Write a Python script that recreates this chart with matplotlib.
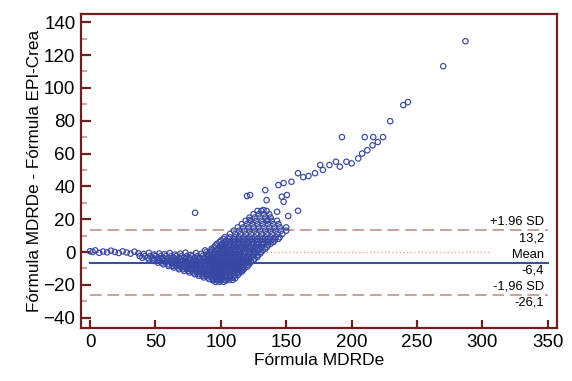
import matplotlib
matplotlib.use("Agg")
import matplotlib.pyplot as plt
from matplotlib.ticker import MultipleLocator

# --- data ---
# points near zero on the left
zero_x = [0, 2, 4, 7, 10, 13, 16, 19, 22, 25, 28, 31, 34, 37, 41, 45, 49, 53, 57, 61, 65, 69, 73, 77, 81, 85]
zero_y = [0.5, 0, 1, -0.5, 0.3, -0.2, 0.8, 0, -0.6, 0.4, -0.3, -1, 0.2, -0.8, -1.2, -0.5, -1.5, -0.9,
          -1.3, -0.7, -1.6, -1.0, -0.4, -1.8, -0.6, -1.1]

# dense wedge (x 35-100), one list of x per row
wedge_rows_y = [-2.5, -3.5, -4.5, -5.5, -6.5, -7.5, -8.5, -9.5, -10.5, -11.5, -12.5, -13.5,
                -14.5, -15.5, -16.5, -17.3, -18.2]
wedge_rows_x = [
    [38, 42, 46, 50, 54, 58, 62, 66, 70, 74, 78, 82, 86, 90],
    [40, 44, 48, 52, 56, 60, 64, 68, 72, 76, 80, 84, 88, 92],
    [45, 48, 52, 55, 59, 62, 66, 69, 73, 76, 80, 83, 87, 90, 94],
    [49, 53, 57, 60, 64, 67, 71, 74, 78, 81, 85, 89, 92],
    [52, 55, 58, 62, 65, 68, 72, 75, 78, 82, 85, 88, 92, 95],
    [56, 60, 64, 67, 70, 74, 77, 80, 84, 87, 90, 93],
    [60, 63, 66, 69, 72, 76, 79, 82, 85, 88, 92, 95],
    [64, 67, 70, 73, 75, 78, 81, 84, 87, 90, 93, 96],
    [68, 71, 74, 77, 80, 83, 86, 89, 92, 95],
    [72, 75, 78, 81, 84, 87, 90, 93, 96],
    [76, 79, 82, 85, 88, 91, 94, 97],
    [80, 83, 86, 89, 92, 95, 98],
    [83, 86, 89, 92, 95, 98],
    [87, 90, 93, 96, 99],
    [91, 94, 97, 100],
    [94, 97, 100, 104],
    [96, 99, 102],
]

# rising band (x 90-155)
band_rows_y = [-17, -16, -15, -14, -13, -12, -11, -10, -9, -8, -7, -6, -5, -4, -3, -2, -1, 0,
               1, 2, 3, 4, 5, 6, 7, 8, 9, 11, 13, 15, 17, 19, 21, 23, 25]
band_rows_x = [
    [100, 103, 106, 109],
    [99, 102, 105, 108, 111],
    [98, 101, 104, 107, 110],
    [98, 101, 104, 107, 110, 113],
    [97, 100, 103, 106, 109, 112, 114],
    [96, 99, 102, 105, 108, 111, 114, 116],
    [97, 100, 103, 106, 109, 112, 115, 117],
    [95, 98, 101, 104, 107, 110, 113, 116, 118],
    [96, 99, 102, 105, 108, 111, 114, 117, 120],
    [94, 97, 100, 103, 106, 109, 112, 115, 118, 121],
    [95, 98, 101, 104, 107, 110, 113, 116, 119, 122],
    [93, 96, 99, 102, 105, 108, 111, 114, 117, 120, 123],
    [94, 97, 100, 103, 106, 109, 112, 115, 118, 121, 125],
    [92, 95, 98, 101, 104, 107, 110, 113, 116, 119, 122, 126],
    [93, 96, 99, 102, 105, 108, 111, 114, 117, 120, 124, 128],
    [91, 95, 98, 101, 104, 107, 110, 113, 116, 120, 124, 128],
    [90, 94, 97, 100, 103, 106, 109, 112, 115, 118, 122, 126, 130],
    [89, 92, 95, 99, 102, 105, 108, 111, 114, 118, 122, 126, 131],
    [88, 93, 97, 100, 103, 106, 110, 113, 116, 120, 124, 128, 132],
    [93, 98, 101, 104, 108, 111, 114, 118, 122, 126, 130, 134],
    [95, 99, 102, 106, 109, 112, 116, 119, 123, 127, 131, 135],
    [96, 100, 103, 106, 110, 113, 117, 120, 124, 128, 132, 136],
    [97, 101, 104, 107, 111, 114, 118, 121, 125, 129, 133, 138],
    [99, 103, 106, 110, 113, 117, 120, 124, 128, 132, 136, 140],
    [100, 104, 108, 111, 115, 118, 122, 126, 130, 134, 138, 141],
    [102, 106, 110, 113, 117, 120, 124, 128, 132, 136, 140, 144],
    [103, 107, 111, 114, 118, 122, 126, 130, 134, 138, 142, 145],
    [107, 111, 115, 119, 123, 127, 131, 135, 139, 143, 147],
    [110, 114, 118, 122, 126, 130, 134, 138, 142, 146, 150],
    [113, 117, 121, 125, 129, 133, 137, 141, 145, 150],
    [116, 120, 124, 128, 132, 136, 140, 144],
    [119, 123, 127, 131, 135, 139, 143],
    [122, 126, 130, 134, 138],
    [125, 129, 133, 137],
    [128, 131, 135],
]

# scattered high values
high_x = [80.3, 122.4, 120, 134, 135, 144, 148, 154, 159, 163, 167, 146.6, 150.5, 148, 159, 151.5,
          143, 132.6, 136, 122, 176, 172, 178, 183, 188, 191, 196, 200, 205, 208, 212, 216,
          220, 224, 192.6, 210, 216.5, 229.5, 239.5, 243, 270, 287]
high_y = [23.9, 34.7, 34.1, 37.7, 31.6, 40.8, 42, 42.8, 48, 45.6, 46.3, 33.7, 34.7, 30.6, 25.1, 21.9,
          24.5, 25.6, 19.5, 19.5, 53, 48, 50, 53, 55, 52, 55, 54, 57, 60, 62, 65,
          67, 70, 70, 70, 70, 79.7, 89.5, 91.3, 113.2, 128.4]

mean_diff = -6.4
upper_loa = 13.2
lower_loa = -26.1

xs = list(zero_x)
ys = list(zero_y)
for yv, row in zip(wedge_rows_y, wedge_rows_x):
    xs += row
    ys += [yv] * len(row)
for yv, row in zip(band_rows_y, band_rows_x):
    xs += row
    ys += [yv] * len(row)
xs += high_x
ys += high_y

spine = "#6e1f1f"
plt.rcParams["font.family"] = ["Liberation Sans", "DejaVu Sans"]

fig = plt.figure(figsize=(5.72, 3.81), dpi=100)
ax = fig.add_axes([81 / 572, 1 - 328 / 381, (557 - 81) / 572, (328 - 14) / 381])

ax.scatter(xs, ys, s=15, facecolors="none", edgecolors="#3747a3", linewidths=0.85, zorder=3)

ax.plot([0, 350], [upper_loa, upper_loa], color="#c9a09c", lw=1.4, dashes=(6, 3), zorder=2)
ax.plot([0, 350], [lower_loa, lower_loa], color="#c9a09c", lw=1.4, dashes=(6, 3), zorder=2)
ax.plot([0, 305], [0, 0], color="#f2a49a", lw=1.0, ls=":", zorder=2)
ax.plot([0, 350], [mean_diff, mean_diff], color="#3b4ea6", lw=1.5, zorder=2)

tx = 347
fs = 9.3
ax.text(tx, upper_loa + 1.2, "+1.96 SD", ha="right", va="bottom", fontsize=fs)
ax.text(tx, upper_loa - 1.2, "13,2", ha="right", va="top", fontsize=fs)
ax.text(tx, mean_diff + 1.2, "Mean", ha="right", va="bottom", fontsize=fs)
ax.text(tx, mean_diff - 1.2, "-6,4", ha="right", va="top", fontsize=fs)
ax.text(tx, lower_loa + 1.2, "-1,96 SD", ha="right", va="bottom", fontsize=fs)
ax.text(tx, lower_loa - 1.2, "-26,1", ha="right", va="top", fontsize=fs)

ax.set_xlim(-6.9, 357)
ax.set_ylim(-46.3, 145)
ax.set_xticks(range(0, 351, 50))
ax.set_yticks(range(-40, 141, 20))
ax.yaxis.set_minor_locator(MultipleLocator(10))

for s in ax.spines.values():
    s.set_color(spine)
    s.set_linewidth(1.6)

ax.tick_params(axis="both", which="major", direction="in", length=7, width=1.6, color=spine,
               labelsize=13.5, pad=4)
ax.tick_params(axis="y", which="minor", direction="in", length=4, width=1.2, color="#c99090")
ax.tick_params(axis="x", which="major", length=6)

ax.set_xlabel("Fórmula MDRDe", fontsize=12.5, labelpad=2)
ax.set_ylabel("Fórmula MDRDe - Fórmula EPI-Crea", fontsize=12.3, labelpad=1)

fig.savefig("out.png", dpi=100)
